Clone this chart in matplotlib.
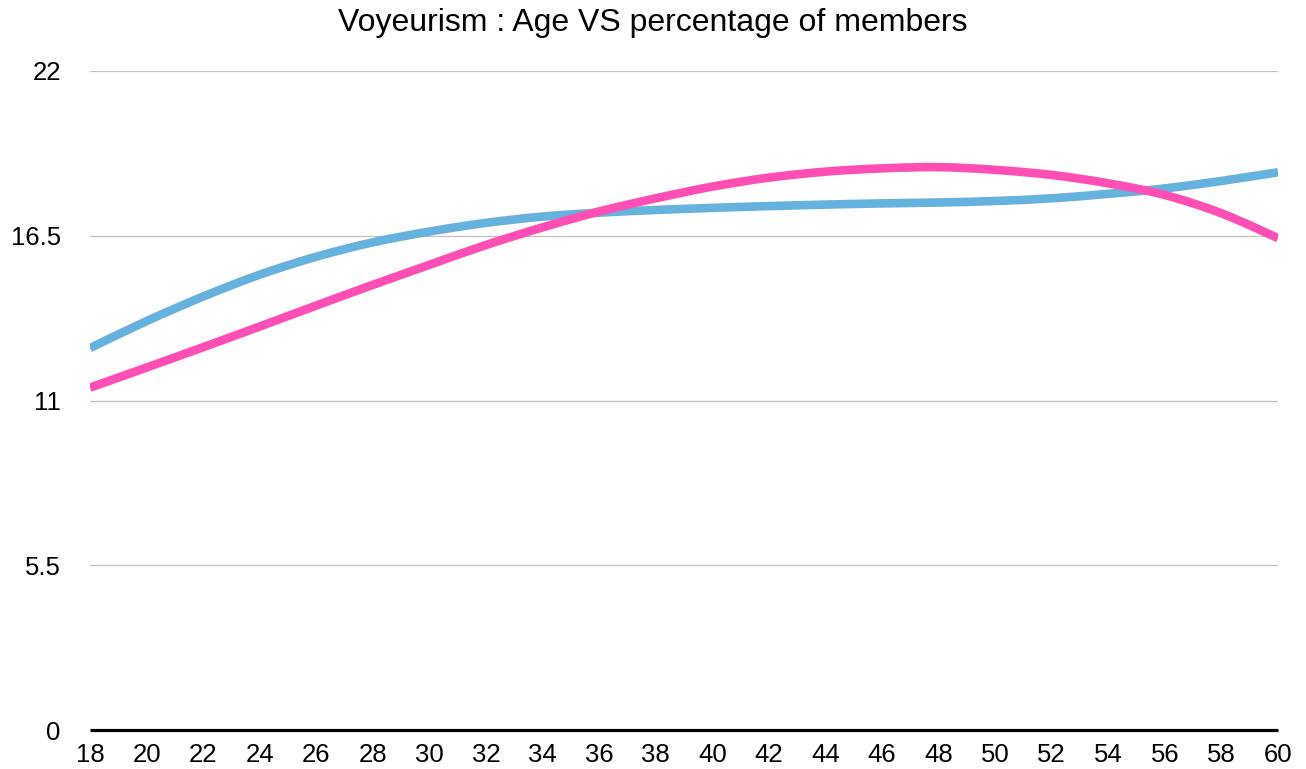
import matplotlib
matplotlib.use("Agg")
import matplotlib.pyplot as plt
from matplotlib.path import Path
from matplotlib.patches import PathPatch

plt.rcParams['font.family'] = ['Liberation Sans', 'DejaVu Sans']

ages = [18, 20, 22, 24, 26, 28, 30, 32, 34, 36, 38, 40, 42, 44, 46, 48, 50, 52, 54, 56, 58, 60]
blue_values = [12.75, 13.65, 14.47, 15.20, 15.80, 16.28, 16.64, 16.93, 17.14, 17.27, 17.36, 17.43,
               17.49, 17.54, 17.58, 17.61, 17.66, 17.75, 17.90, 18.08, 18.33, 18.62]
pink_values = [11.43, 12.10, 12.78, 13.47, 14.17, 14.86, 15.53, 16.19, 16.78, 17.31, 17.75, 18.14,
               18.44, 18.64, 18.75, 18.79, 18.70, 18.53, 18.25, 17.86, 17.25, 16.42]
y_ticks = [0, 5.5, 11, 16.5, 22]
y_tick_labels = ["0", "5.5", "11", "16.5", "22"]
title = "Voyeurism : Age VS percentage of members"


def smooth_path(xs, ys):
    """Catmull-Rom style Bezier path through the data points (rendered by matplotlib)."""
    pts = list(zip(xs, ys))
    n = len(pts)
    verts = [pts[0]]
    codes = [Path.MOVETO]
    for i in range(n - 1):
        p0 = pts[i - 1] if i > 0 else pts[i]
        p1 = pts[i]
        p2 = pts[i + 1]
        p3 = pts[i + 2] if i + 2 < n else pts[i + 1]
        c1 = (p1[0] + (p2[0] - p0[0]) / 6, p1[1] + (p2[1] - p0[1]) / 6)
        c2 = (p2[0] - (p3[0] - p1[0]) / 6, p2[1] - (p3[1] - p1[1]) / 6)
        verts += [c1, c2, p2]
        codes += [Path.CURVE4, Path.CURVE4, Path.CURVE4]
    return Path(verts, codes)


fig = plt.figure(figsize=(13.06, 7.69), dpi=100)
ax = fig.add_axes([90/1306, 1-730/769, (1278-90)/1306, (730-71)/769])

for y in y_ticks[1:]:
    ax.axhline(y, color="#C2C2C2", lw=0.9, zorder=1)

ax.add_patch(PathPatch(smooth_path(ages, blue_values), fill=False, edgecolor="#65B2DF",
                       lw=6.2, capstyle="butt", zorder=3))
ax.add_patch(PathPatch(smooth_path(ages, pink_values), fill=False, edgecolor="#FF4FB4",
                       lw=6.2, capstyle="butt", zorder=4))

ax.set_xlim(18, 60)
ax.set_ylim(0, 22)
ax.set_xticks(ages)
ax.set_xticklabels([str(a) for a in ages])
ax.set_yticks(y_ticks)
ax.set_yticklabels(y_tick_labels)
ax.tick_params(axis="both", length=0, labelsize=18.5, colors="black")
ax.tick_params(axis="y", pad=21)
ax.tick_params(axis="x", pad=9)

for s in ["top", "right", "left"]:
    ax.spines[s].set_visible(False)
ax.spines["bottom"].set_linewidth(2.3)
ax.spines["bottom"].set_color("black")
ax.spines["bottom"].set_zorder(5)
ax.spines["bottom"].set_capstyle("butt")

fig.text(0.5, 1-31/769, title, ha="center", va="baseline", fontsize=23)

fig.savefig("out.png", dpi=100)
